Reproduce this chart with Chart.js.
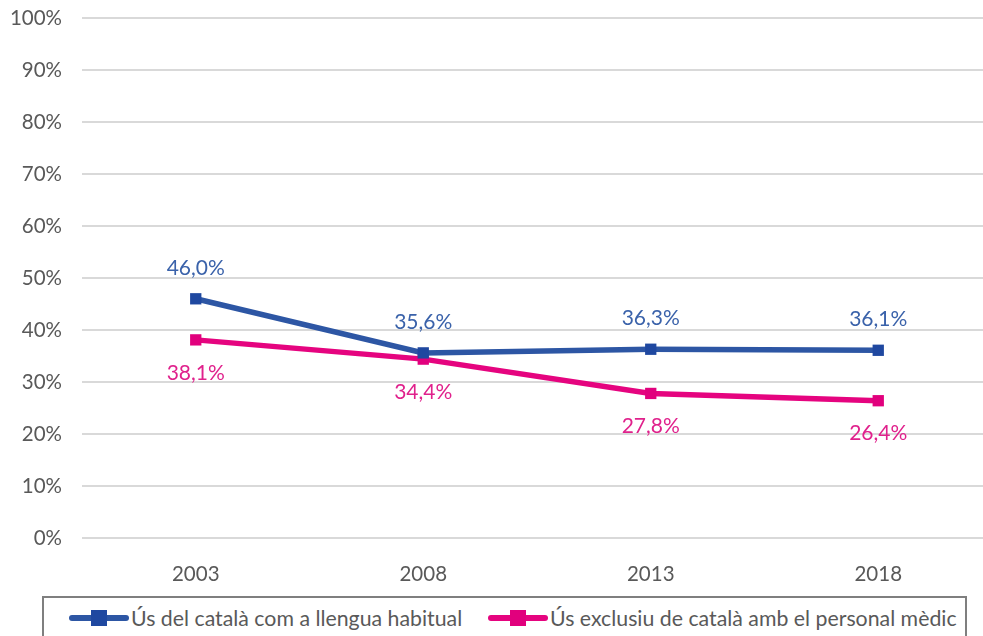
<!DOCTYPE html>
<html>
<head>
<meta charset="utf-8">
<script src="https://cdn.jsdelivr.net/npm/chart.js@4"></script>
<style>
  html, body { margin:0; padding:0; background:#fff; overflow:hidden; width:983px; height:636px; }
  #wrap { position:absolute; left:0; top:0; width:1000px; height:595px; }
  #legend { position:absolute; left:42px; top:596px; width:925px; height:60px; border:2px solid #7f7f7f; box-sizing:border-box;
            font-family: Lato, "Open Sans", sans-serif; font-size:21.3px; color:#595959; }
  .item { position:absolute; top:7px; height:26px; line-height:26px; white-space:nowrap; }
  .sw { display:inline-block; position:relative; width:60px; height:26px; vertical-align:top; margin-right:2px; }
  .sw .ln { position:absolute; left:0; right:0; top:10px; height:6px; border-radius:3px; }
  .sw .mk { position:absolute; left:22px; top:5px; width:16px; height:16px; }
</style>
</head>
<body>
<div id="wrap"><canvas id="c" width="1000" height="595"></canvas></div>
<div id="legend"></div>
<script>
const years = ['2003', '2008', '2013', '2018'];
const habitual = [46.0, 35.6, 36.3, 36.1];
const exclusiu = [38.1, 34.4, 27.8, 26.4];
const seriesNames = ['Ús del català com a llengua habitual', 'Ús exclusiu de català amb el personal mèdic'];
const yTicks = [0, 10, 20, 30, 40, 50, 60, 70, 80, 90, 100];

const blueLine = '#2D56A4', blueMark = '#1F48A0', blueText = '#3A62AA';
const pinkLine = '#E5047F', pinkMark = '#E1007D', pinkText = '#E0218C';

const fmt = v => v.toFixed(1).replace('.', ',') + '%';

const labelPlugin = {
  id: 'dataLabels',
  afterDatasetsDraw(chart) {
    const ctx = chart.ctx;
    ctx.save();
    ctx.font = '21px Lato, "Open Sans", sans-serif';
    ctx.textAlign = 'center';
    ctx.textBaseline = 'middle';
    chart.data.datasets.forEach((ds, i) => {
      const meta = chart.getDatasetMeta(i);
      meta.data.forEach((pt, j) => {
        ctx.fillStyle = ds.labelColor;
        ctx.fillText(fmt(ds.data[j]), pt.x, pt.y + ds.labelOffset);
      });
    });
    ctx.restore();
  }
};

new Chart(document.getElementById('c'), {
  type: 'line',
  data: {
    labels: years,
    datasets: [
      { label: seriesNames[0], data: habitual, borderColor: blueLine, backgroundColor: blueMark,
        borderWidth: 5.5, pointStyle: 'rect', pointRadius: 8, pointBorderWidth: 0, pointBackgroundColor: blueMark,
        tension: 0, labelColor: blueText, labelOffset: -31 },
      { label: seriesNames[1], data: exclusiu, borderColor: pinkLine, backgroundColor: pinkMark,
        borderWidth: 5.5, pointStyle: 'rect', pointRadius: 8, pointBorderWidth: 0, pointBackgroundColor: pinkMark,
        tension: 0, labelColor: pinkText, labelOffset: 33 }
    ]
  },
  options: {
    responsive: false,
    animation: false,
    devicePixelRatio: 1,
    layout: { padding: { left: 0, right: 6, top: 18, bottom: 0 } },
    plugins: { legend: { display: false }, tooltip: { enabled: false } },
    scales: {
      x: {
        offset: true,
        grid: { display: false },
        border: { display: false },
        ticks: { color: '#595959', font: { family: 'Lato', size: 20.5 }, padding: 16 },
        afterFit(s) { s.height = 57; s.paddingLeft = 0; s.paddingRight = 0; s.paddingTop = 0; s.paddingBottom = 0; }
      },
      y: {
        min: 0, max: 100,
        afterBuildTicks(s) { s.ticks = yTicks.map(v => ({ value: v })); },
        grid: { color: '#d9d9d9', lineWidth: 2, drawTicks: false },
        border: { display: false },
        ticks: { color: '#595959', font: { family: 'Lato', size: 20.5 }, padding: 20,
                 callback: v => v + '%' },
        afterFit(s) { s.width = 82; s.paddingTop = 0; s.paddingBottom = 0; s.paddingLeft = 0; s.paddingRight = 0; }
      }
    }
  },
  plugins: [labelPlugin]
});

// legend
const legend = document.getElementById('legend');
const items = [
  { name: seriesNames[0], line: blueLine, mark: blueMark, left: 25 },
  { name: seriesNames[1], line: pinkLine, mark: pinkMark, left: 444 }
];
items.forEach(it => {
  const d = document.createElement('div');
  d.className = 'item';
  d.style.left = it.left + 'px';
  d.innerHTML = '<span class="sw"><span class="ln" style="background:' + it.line + '"></span><span class="mk" style="background:' + it.mark + '"></span></span>';
  const t = document.createElement('span');
  t.textContent = it.name;
  d.appendChild(t);
  legend.appendChild(d);
});
</script>
</body>
</html>
